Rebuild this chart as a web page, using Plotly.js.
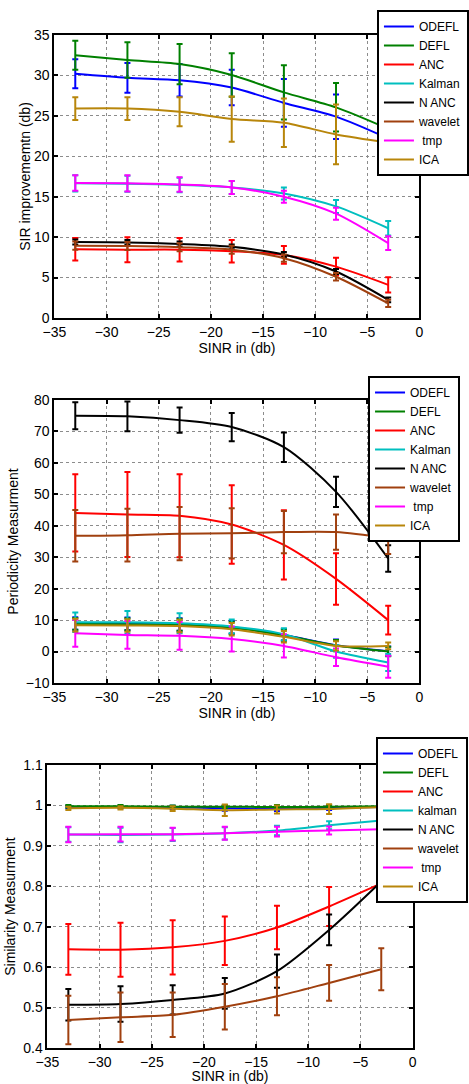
<!DOCTYPE html>
<html>
<head>
<meta charset="utf-8">
<script src="https://cdn.plot.ly/plotly-3.0.1.min.js"></script>
<style>
html,body{margin:0;padding:0;background:#fff;}
#chart{width:469px;height:1084px;}
</style>
</head>
<body>
<div id="chart"></div>
<script>
// ---------- shared ----------
const sinr = [-33, -28, -23, -18, -13, -8, -3];
const seriesNames = ["ODEFL", "DEFL", "ANC", "Kalman", "N ANC", "wavelet", " tmp", "ICA"];
const seriesNames3 = ["ODEFL", "DEFL", "ANC", "kalman", "N ANC", "wavelet", " tmp", "ICA"];
const seriesColors = ["#0000ff", "#008000", "#ff0000", "#00bfbf", "#000000", "#a0400f", "#ff00ff", "#b8860b"];

// ---------- panel 1: SIR improvement ----------
const sirODEFL = [30.2, 29.7, 29.4, 28.5, 26.6, 24.9, 22.2];
const sirODEFLErr = [1.8, 1.85, 2.0, 2.2, 2.95, 2.75, 3.2];
const sirDEFL = [32.5, 31.9, 31.4, 30.05, 27.9, 26.05, 23.4];
const sirDEFLErr = [1.8, 2.2, 2.5, 2.7, 3.35, 3.0, 3.2];
const sirANC = [8.5, 8.45, 8.45, 8.25, 7.8, 6.35, 4.1];
const sirANCErr = [1.4, 1.55, 1.45, 1.4, 1.1, 1.1, 0.95];
const sirKalman = [16.65, 16.6, 16.45, 16.15, 15.4, 13.8, 11.1];
const sirKalmanErr = [1.0, 1.0, 0.9, 0.8, 0.75, 0.8, 0.9];
const sirNANC = [9.4, 9.35, 9.15, 8.8, 7.85, 5.75, 2.25];
const sirNANCErr = [0.3, 0.3, 0.3, 0.3, 0.3, 0.3, 0.3];
const sirWavelet = [8.95, 8.9, 8.75, 8.45, 7.4, 5.1, 1.8];
const sirWaveletErr = [0.5, 0.5, 0.5, 0.5, 0.45, 0.45, 0.45];
const sirTmp = [16.7, 16.65, 16.5, 16.15, 15.0, 12.9, 9.25];
const sirTmpErr = [0.95, 1.0, 0.9, 0.8, 0.75, 0.75, 0.85];
const sirICA = [25.9, 25.9, 25.5, 24.6, 24.15, 22.7, 21.7];
const sirICAErr = [1.4, 1.4, 1.8, 2.8, 3.0, 3.7, 3.7];

// ---------- panel 2: periodicity ----------
const perODEFL = [8.9, 8.8, 8.6, 7.7, 5.3, 2.0, 0.1];
const perODEFLErr = [2.0, 2.0, 2.0, 2.0, 1.8, 1.8, 1.5];
const perDEFL = [8.8, 8.7, 8.5, 7.6, 5.2, 1.9, 0.0];
const perDEFLErr = [1.9, 1.9, 1.9, 1.9, 1.8, 1.8, 1.5];
const perANC = [44.1, 43.6, 43.2, 40.4, 33.9, 23.1, 10.0];
const perANCErr = [12.3, 13.5, 13.2, 12.5, 11.0, 8.2, 4.6];
const perKalman = [9.3, 9.3, 9.0, 8.0, 5.5, 0.0, -3.5];
const perKalmanErr = [3.1, 3.6, 3.2, 2.2, 1.9, 2.0, 2.7];
const perNANC = [75.0, 74.8, 73.6, 71.4, 65.0, 50.8, 29.6];
const perNANCErr = [4.3, 4.7, 4.0, 4.5, 4.7, 4.8, 4.2];
const perWavelet = [36.8, 37.0, 37.5, 37.6, 38.0, 38.0, 36.0];
const perWaveletErr = [8.2, 8.4, 8.5, 8.0, 6.7, 5.6, 5.0];
const perTmp = [5.8, 5.3, 5.0, 4.0, 1.8, -1.8, -4.8];
const perTmpErr = [4.3, 4.4, 4.4, 4.0, 3.7, 2.8, 3.5];
const perICA = [8.4, 8.3, 8.1, 7.1, 4.7, 1.8, 1.8];
const perICAErr = [2.0, 2.0, 2.0, 2.0, 1.8, 1.5, 1.1];

// ---------- panel 3: similarity ----------
const simODEFL = [0.996, 0.996, 0.995, 0.993, 0.992, 0.994, 0.996];
const simODEFLErr = [0.003, 0.003, 0.004, 0.006, 0.006, 0.005, 0.003];
const simDEFL = [0.998, 0.998, 0.997, 0.997, 0.996, 0.997, 0.998];
const simDEFLErr = [0.003, 0.003, 0.003, 0.004, 0.005, 0.004, 0.003];
const simANC = [0.644, 0.643, 0.649, 0.665, 0.698, 0.750, 0.807];
const simANCErr = [0.063, 0.067, 0.067, 0.060, 0.054, 0.048, 0.046];
const simKalman = [0.928, 0.927, 0.928, 0.931, 0.938, 0.951, 0.963];
const simKalmanErr = [0.018, 0.018, 0.016, 0.015, 0.012, 0.010, 0.010];
const simNANC = [0.507, 0.509, 0.519, 0.535, 0.590, 0.692, 0.812];
const simNANCErr = [0.039, 0.044, 0.036, 0.038, 0.041, 0.038, 0.025];
const simWavelet = [0.469, 0.476, 0.482, 0.502, 0.528, 0.561, 0.595];
const simWaveletErr = [0.060, 0.061, 0.055, 0.056, 0.047, 0.044, 0.052];
const simTmp = [0.928, 0.929, 0.929, 0.931, 0.935, 0.938, 0.941];
const simTmpErr = [0.019, 0.018, 0.016, 0.016, 0.012, 0.010, 0.010];
const simICA = [0.993, 0.994, 0.992, 0.988, 0.990, 0.991, 0.996];
const simICAErr = [0.004, 0.004, 0.006, 0.014, 0.010, 0.012, 0.006];

const panels = [
  {ax: "", legend: "legend", names: seriesNames,
   vals: [sirODEFL, sirDEFL, sirANC, sirKalman, sirNANC, sirWavelet, sirTmp, sirICA],
   errs: [sirODEFLErr, sirDEFLErr, sirANCErr, sirKalmanErr, sirNANCErr, sirWaveletErr, sirTmpErr, sirICAErr]},
  {ax: "2", legend: "legend2", names: seriesNames,
   vals: [perODEFL, perDEFL, perANC, perKalman, perNANC, perWavelet, perTmp, perICA],
   errs: [perODEFLErr, perDEFLErr, perANCErr, perKalmanErr, perNANCErr, perWaveletErr, perTmpErr, perICAErr]},
  {ax: "3", legend: "legend3", names: seriesNames3,
   vals: [simODEFL, simDEFL, simANC, simKalman, simNANC, simWavelet, simTmp, simICA],
   errs: [simODEFLErr, simDEFLErr, simANCErr, simKalmanErr, simNANCErr, simWaveletErr, simTmpErr, simICAErr]}
];

const traces = [];
panels.forEach(p => {
  p.vals.forEach((v, i) => {
    traces.push({
      type: "scatter", mode: "lines",
      x: sinr, y: v,
      name: p.names[i],
      legend: p.legend,
      xaxis: "x" + p.ax, yaxis: "y" + p.ax,
      line: {color: seriesColors[i], width: 2, shape: "spline", smoothing: 0.8},
      error_y: {type: "data", array: p.errs[i], visible: true, color: seriesColors[i], thickness: 2, width: 3}
    });
  });
});

const W = 469, H = 1084;
const font = "Liberation Sans, Arial, Helvetica, sans-serif";
function xd(a, b) { return [a / W, b / W]; }
function yd(top, bottom) { return [1 - bottom / H, 1 - top / H]; }

function xAxis(dom, anchor) {
  return {
    domain: dom, anchor: anchor, range: [-35, 0], dtick: 5, tick0: -35,
    showline: true, linecolor: "#000", linewidth: 2, mirror: "ticks",
    ticks: "inside", ticklen: 4, tickcolor: "#000", tickwidth: 2,
    showgrid: true, gridcolor: "#8c8c8c", griddash: "dot", gridwidth: 1,
    zeroline: false, tickfont: {size: 14, color: "#000", family: font},
    title: {text: "SINR in (db)", font: {size: 14, color: "#000", family: font}, standoff: 1}
  };
}
function yAxis(dom, anchor, range, dtick, title, standoff) {
  return {
    domain: dom, anchor: anchor, range: range, dtick: dtick, tick0: range[0],
    showline: true, linecolor: "#000", linewidth: 2, mirror: "ticks",
    ticks: "inside", ticklen: 4, tickcolor: "#000", tickwidth: 2,
    showgrid: true, gridcolor: "#8c8c8c", griddash: "dot", gridwidth: 1,
    zeroline: false, tickfont: {size: 14, color: "#000", family: font},
    title: {text: title, font: {size: 14, color: "#000", family: font}, standoff: standoff}
  };
}
function legendBox(left, top) {
  return {
    x: left / W, y: 1 - top / H, xref: "paper", yref: "paper",
    xanchor: "left", yanchor: "top",
    bgcolor: "#fff", bordercolor: "#000", borderwidth: 2,
    font: {size: 12, color: "#000", family: font},
    tracegroupgap: 0, itemwidth: 30
  };
}

const layout = {
  width: W, height: H,
  margin: {l: 0, r: 0, t: 0, b: 0},
  paper_bgcolor: "#fff", plot_bgcolor: "#fff",
  showlegend: true,
  xaxis: xAxis(xd(55, 424), "y"),
  yaxis: yAxis(yd(35, 318), "x", [0, 35], 5, "SIR improvememtn (db)", 0),
  xaxis2: xAxis(xd(55, 424), "y2"),
  yaxis2: yAxis(yd(400, 683), "x2", [-10, 80], 10, "Periodicity Measurment", 4),
  xaxis3: xAxis(xd(48, 417), "y3"),
  yaxis3: yAxis(yd(765, 1048), "x3", [0.4, 1.1], 0.1, "Similarity Measurment", 4),
  legend: legendBox(381, 10),
  legend2: legendBox(372, 376),
  legend3: legendBox(380, 737)
};

Plotly.newPlot("chart", traces, layout, {displayModeBar: false, staticPlot: true});
</script>
</body>
</html>
